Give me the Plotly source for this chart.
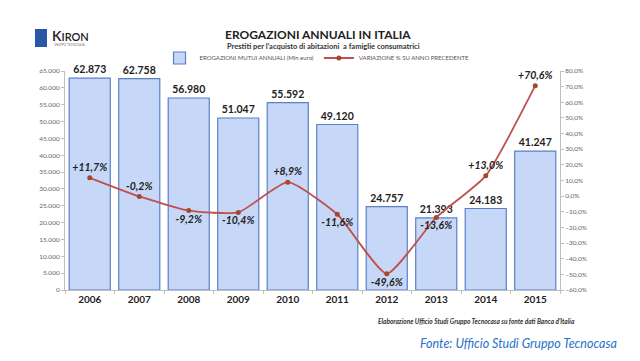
import plotly.graph_objects as go

years = ["2006", "2007", "2008", "2009", "2010", "2011", "2012", "2013", "2014", "2015"]
erogazioni = [62873, 62758, 56980, 51047, 55592, 49120, 24757, 21393, 24183, 41247]
variazione = [11.7, -0.2, -9.2, -10.4, 8.9, -11.6, -49.6, -13.6, 13.0, 70.6]
var_labels = ["+11,7%", "-0,2%", "-9,2%", "-10,4%", "+8,9%", "-11,6%", "-49,6%", "-13,6%", "+13,0%", "+70,6%"]
var_pos = ["top center", "top center", "bottom center", "bottom center", "top center",
           "bottom center", "bottom center", "bottom center", "top center", "top center"]

FONT = "Lato, 'Open Sans', sans-serif"

# plot area in pixels
L, R, T, B = 57, 552, 63, 282
W, H = 640, 361


def px(x):
    return (x - L) / (R - L)


def py(y):
    return (B - y) / (B - T)


fig = go.Figure()
fig.add_trace(go.Bar(
    x=years, y=erogazioni, name="EROGAZIONI MUTUI ANNUALI (Mln euro)",
    marker=dict(color="#c6d7f7", line=dict(color="#5b80c8", width=1.2)),
    texttemplate="%{y:,.0f}", textposition="outside", cliponaxis=False,
    textfont=dict(family=FONT, size=10.5, color="#222222", weight="bold"),
))
fig.add_trace(go.Scatter(
    x=years, y=variazione, name="VARIAZIONE % SU ANNO PRECEDENTE", yaxis="y2",
    mode="lines+markers+text", text=var_labels, textposition=var_pos,
    line=dict(color="#c0504d", width=1.8, shape="spline", smoothing=0.5),
    marker=dict(color="#a5472a", size=5),
    textfont=dict(family=FONT, size=10.5, color="#222222", weight="bold", style="italic"),
    cliponaxis=False,
))

fig.update_layout(
    width=W, height=H,
    margin=dict(l=L, r=W - R, t=T, b=H - B),
    paper_bgcolor="white", plot_bgcolor="white",
    separators=",.",
    bargap=0.17,
    font=dict(family=FONT, color="#555555"),
    showlegend=True,
    legend=dict(orientation="h", x=px(309), xanchor="center", y=py(50), yanchor="middle",
                font=dict(size=6, color="#555555"), bgcolor="rgba(0,0,0,0)",
                itemwidth=30, tracegroupgap=0),
    xaxis=dict(type="category", range=[-0.5, 9.5], showline=True, linecolor="#bfbfbf",
               ticks="outside", tickson="boundaries", ticklen=3, tickcolor="#bfbfbf",
               tickfont=dict(family=FONT, size=10, color="#222222", weight="bold")),
    yaxis=dict(range=[0, 65000], dtick=5000, tickformat=",.0f", showgrid=False,
               zeroline=False, showline=True, linecolor="#bfbfbf", ticks="outside",
               ticklen=3, tickcolor="#bfbfbf", tickfont=dict(size=6.5, color="#666666")),
    yaxis2=dict(range=[-60, 80], dtick=10, overlaying="y", side="right",
                tickformat=".1f", ticksuffix="%", showgrid=False, zeroline=False,
                showline=True, linecolor="#bfbfbf", ticks="outside", ticklen=3,
                tickcolor="#bfbfbf", tickfont=dict(size=6.5, color="#666666")),
)

annotations = [
    dict(text="<b>EROGAZIONI ANNUALI IN ITALIA</b>", x=310, y=26,
         font=dict(size=12, color="#222222")),
    dict(text="<b>Prestiti per l'acquisto di abitazioni  a famiglie consumatrici</b>", x=315, y=38.5,
         font=dict(size=7.5, color="#333333")),
    dict(text="Elaborazione Ufficio Studi Gruppo Tecnocasa su fonte dati Banca d'Italia", x=468, y=313,
         font=dict(size=6.5, color="#333333", style="italic", weight="bold")),
    dict(text="Fonte: Ufficio Studi Gruppo Tecnocasa", x=510, y=335,
         font=dict(size=12.5, color="#2a6fc9", style="italic")),
    dict(text="K<span style='font-size:11px'>IRON</span>", x=62, y=28,
         font=dict(size=14, color="#1a1a1a", weight=600)),
    dict(text="GRUPPO TECNOCASA", x=62, y=37, font=dict(size=3, color="#777777")),
]
for a in annotations:
    a.update(xref="paper", yref="paper", showarrow=False, xanchor="center", yanchor="middle")
    a["x"] = px(a["x"])
    a["y"] = py(a["y"])
fig.update_layout(annotations=annotations)

fig.add_shape(type="rect", xref="paper", yref="paper",
              x0=px(27), x1=px(39), y0=py(39), y1=py(21),
              fillcolor="#2a56a8", line=dict(width=0))

fig.write_html("out.html")
